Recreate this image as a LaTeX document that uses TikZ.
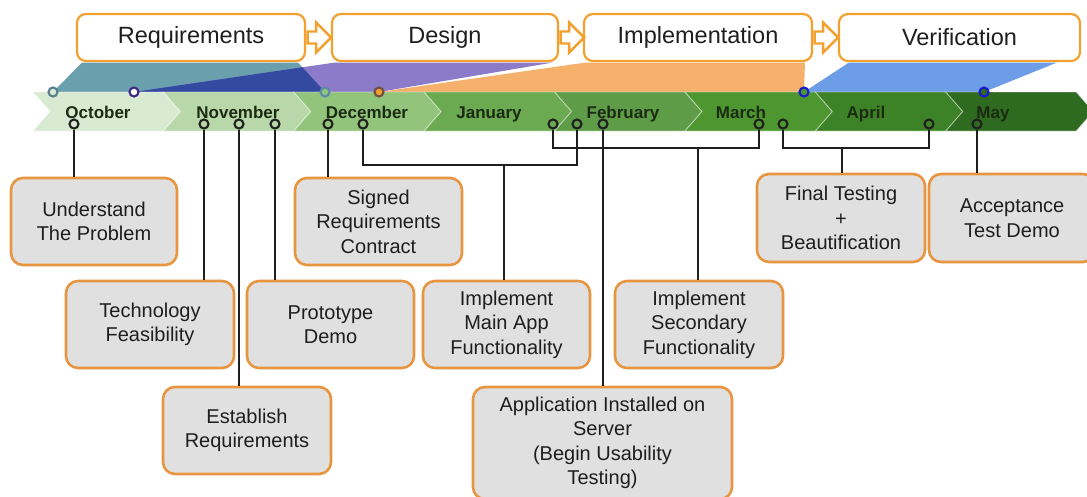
\documentclass[tikz,border=0pt]{standalone}
\usepackage{fontspec}
\setmainfont{Liberation Sans}
\usetikzlibrary{calc}
\definecolor{boxorange}{HTML}{E8953F}
\definecolor{boxgray}{HTML}{E0E0E0}
\definecolor{phaseorange}{HTML}{F3A02E}
\definecolor{textdark}{HTML}{1E1E1E}
\definecolor{monthtext}{HTML}{1B2A12}
\definecolor{mOct}{HTML}{D9EAD3}
\definecolor{mNov}{HTML}{B8D8A9}
\definecolor{mDec}{HTML}{92C47B}
\definecolor{mJan}{HTML}{6BAA50}
\definecolor{mFeb}{HTML}{5E9C48}
\definecolor{mMar}{HTML}{4E9630}
\definecolor{mApr}{HTML}{3D8226}
\definecolor{mMay}{HTML}{2E6A1F}
\definecolor{cTeal}{HTML}{6A9FAE}
\definecolor{cPurple}{HTML}{8B7BC8}
\definecolor{cDark}{HTML}{3449A0}
\definecolor{cOrange}{HTML}{F5B06C}
\definecolor{cBlue}{HTML}{6C9DE6}
\tikzset{
  taskbox/.style={draw=boxorange, line width=2.6pt, fill=boxgray, rounded corners=12pt,
    align=center, inner sep=0pt, font=\fontsize{20}{24.5}\selectfont, text=textdark},
  phasebox/.style={draw=phaseorange, line width=2.2pt, fill=white, rounded corners=9pt,
    minimum height=47pt, inner sep=0pt, font=\fontsize{23.5}{28}\selectfont, text=textdark},
  phasearrow/.style={draw=phaseorange, line width=2.4pt, fill=white, line join=miter},
  dot/.style={circle, draw=black!88, line width=2.1pt, minimum size=9pt, inner sep=0pt},
  topdot/.style={circle, line width=2.1pt, minimum size=9pt, inner sep=0pt},
  conn/.style={draw=black!88, line width=2.3pt},
  monthlbl/.style={font=\bfseries\fontsize{17}{20}\selectfont, text=monthtext, anchor=base},
  chev/.style={draw=white, draw opacity=0.45, line width=0.9pt},
}
\begin{document}
\begin{tikzpicture}[x=1pt,y=-1pt]
\useasboundingbox (0,0) rectangle (1087,496);
\clip (0,0) rectangle (1087,496);
\fill[white] (0,0) rectangle (1087,496);

% phase boxes
\node[phasebox, minimum width=228pt] (req) at (191,37.5) {Requirements};
\node[phasebox, minimum width=226pt] (des) at (445,37.5) {Design};
\node[phasebox, minimum width=228pt] (imp) at (698,37.5) {Implementation};
\node[phasebox, minimum width=241pt] (ver) at (959.5,37.5) {Verification};
\foreach \a in {req,des,imp}{
  \draw[phasearrow] (\a.east) ++(1.5,-6) -- ++(8.5,0) -- ++(0,-9) -- ++(15,15) -- ++(-15,15) -- ++(0,-9) -- ++(-8.5,0) -- cycle;
}

% phase spans
\fill[cTeal] (53,92) -- (82,62.5) -- (298,62.5) -- (325,92) -- cycle;
\fill[cPurple] (134,92) -- (335,62.5) -- (553,62.5) -- (379,92) -- cycle;
\begin{scope}
  \clip (53,92) -- (82,62.5) -- (298,62.5) -- (325,92) -- cycle;
  \fill[cDark] (134,92) -- (335,62.5) -- (553,62.5) -- (379,92) -- cycle;
\end{scope}
\fill[cOrange] (379,92) -- (586,62.5) -- (805,62.5) -- (804,92) -- cycle;
\fill[cBlue] (804,92) -- (849,62.5) -- (1057,62.5) -- (984,92) -- cycle;

% month chevrons
\foreach \i/\col/\name/\lx in {0/mOct/October/98, 1/mNov/November/238, 2/mDec/December/367,
    3/mJan/January/489, 4/mFeb/February/623, 5/mMar/March/741, 6/mApr/April/866, 7/mMay/May/993}{
  \pgfmathsetmacro{\bx}{33+130.4*\i}
  \pgfmathsetmacro{\ex}{\bx+130.4}
  \fill[\col] (\bx,92) -- (\ex,92) -- (\ex+17,111.5) -- (\ex,131) -- (\bx,131) -- (\bx+17,111.5) -- cycle;
  \draw[chev] (\bx,92) -- (\ex,92) -- (\ex+17,111.5) -- (\ex,131) -- (\bx,131) -- (\bx+17,111.5) -- cycle;
  \node[monthlbl] (m\i) at (\lx,118.5) {\name};
}

% top markers
\node[topdot, draw=cTeal!80!black, fill=mOct] (t1) at (53,92) {};
\node[topdot, draw={rgb,255:red,60;green,40;blue,130}, fill=white] (t2) at (134,92) {};
\node[topdot, draw={rgb,255:red,90;green,138;blue,168}, fill=mDec] (t3) at (325,92) {};
\node[topdot, draw={rgb,255:red,110;green,80;blue,70}, fill=phaseorange] (t4) at (379,92) {};
\node[topdot, draw={rgb,255:red,25;green,25;blue,205}, fill=mMar] (t5) at (804,92) {};
\node[topdot, draw={rgb,255:red,25;green,25;blue,205}, fill=mMay] (t6) at (984,92) {};

% task boxes
\node[taskbox, minimum width=166pt, minimum height=87pt] (und) at (94,221.5) {Understand\\The Problem};
\node[taskbox, minimum width=167pt, minimum height=87pt] (sig) at (378.5,221.5) {Signed\\Requirements\\Contract};
\node[taskbox, minimum width=168pt, minimum height=87pt] (tech) at (150,324.5) {Technology\\Feasibility};
\node[taskbox, minimum width=167pt, minimum height=87pt] (proto) at (330.5,324.5) {Prototype\\Demo};
\node[taskbox, minimum width=167pt, minimum height=87pt] (main) at (506.5,324.5) {Implement\\Main App\\Functionality};
\node[taskbox, minimum width=168pt, minimum height=87pt] (sec) at (699,324.5) {Implement\\Secondary\\Functionality};
\node[taskbox, minimum width=168pt, minimum height=87pt] (est) at (247,430.5) {Establish\\Requirements};
\node[taskbox, minimum width=259pt, minimum height=112pt] (app) at (602.5,443) {Application Installed on\\Server\\(Begin Usability\\Testing)};
\node[taskbox, minimum width=168pt, minimum height=88pt] (fin) at (841,218) {Final Testing\\+\\Beautification};
\node[taskbox, minimum width=166pt, minimum height=88pt] (acc) at (1012,218) {Acceptance\\Test Demo};

% bottom markers
\node[dot] (c1) at (74,124) {};
\node[dot] (c2) at (204,124) {};
\node[dot] (c3) at (239,124) {};
\node[dot] (c4) at (275,124) {};
\node[dot] (c5) at (328,124) {};
\node[dot] (c6) at (363,124) {};
\node[dot] (c7) at (553,124) {};
\node[dot] (c9) at (577,124) {};
\node[dot] (c8) at (603,124) {};
\node[dot] (c11) at (759,124) {};
\node[dot] (c12) at (783,124) {};
\node[dot] (c13) at (929,124) {};
\node[dot] (c14) at (977,124) {};

% connectors
\coordinate (jm) at (504,165);
\coordinate (js) at (698,148);
\coordinate (jf) at (842,148);
\draw[conn] (c1.south) -- (c1.south |- und.north);
\draw[conn] (c2.south) -- (c2.south |- tech.north);
\draw[conn] (c3.south) -- (c3.south |- est.north);
\draw[conn] (c4.south) -- (c4.south |- proto.north);
\draw[conn] (c5.south) -- (c5.south |- sig.north);
\draw[conn] (c8.south) -- (c8.south |- app.north);
\draw[conn] (c14.south) -- (c14.south |- acc.north);
\draw[conn] (c6.south) |- (jm) -| (c9.south);
\draw[conn] (jm) -- (jm |- main.north);
\draw[conn] (c7.south) |- (js) -| (c11.south);
\draw[conn] (js) -- (js |- sec.north);
\draw[conn] (c12.south) |- (jf) -| (c13.south);
\draw[conn] (jf) -- (jf |- fin.north);
\end{tikzpicture}
\end{document}
